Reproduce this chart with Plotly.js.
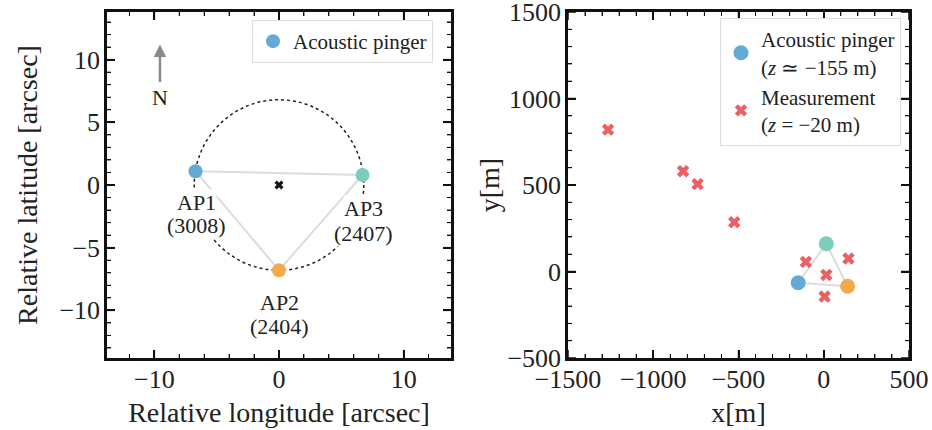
<!DOCTYPE html>
<html>
<head>
<meta charset="utf-8">
<script src="https://cdn.plot.ly/plotly-3.0.1.min.js"></script>
<style>html,body{margin:0;padding:0;background:#fff;overflow:hidden;}</style>
</head>
<body>
<div id="chart" style="width:932px;height:430px;"></div>
<script>
// ---- Left panel data (relative coordinates, arcsec) ----
const apNames = ['AP1', 'AP2', 'AP3'];
const apIds = ['(3008)', '(2404)', '(2407)'];
const apLon = [-6.7, 0.0, 6.7];
const apLat = [1.1, -6.8, 0.8];
const centerLon = [0.0];
const centerLat = [0.0];
const circleRadius = 6.8;

// ---- Right panel data (metres) ----
const pingerX = [-150, 140, 15];
const pingerY = [-65, -85, 160];
const measX = [-1265, -825, -740, -525, -105, 145, 15, 5];
const measY = [820, 580, 505, 285, 55, 75, -20, -145];

// ---- Tick spacing (major / minor) ----
const leftXTickStep = [10, 2];
const leftYTickStep = [5, 1];
const rightTickStep = [500, 100];

// ---- Styles ----
const apColors = ['#64aad7', '#f5a94d', '#7ccdb9'];
const measColor = '#ee5f63';
const triColor = '#dcdcdc';

const traces = [];
traces.push({x: apLon.concat([apLon[0]]), y: apLat.concat([apLat[0]]), xaxis: 'x', yaxis: 'y',
  mode: 'lines', line: {color: triColor, width: 2}, showlegend: false, hoverinfo: 'skip'});
traces.push({x: pingerX.concat([pingerX[0]]), y: pingerY.concat([pingerY[0]]), xaxis: 'x2', yaxis: 'y2',
  mode: 'lines', line: {color: triColor, width: 2}, showlegend: false, hoverinfo: 'skip'});
traces.push({x: centerLon, y: centerLat, xaxis: 'x', yaxis: 'y', mode: 'markers',
  marker: {symbol: 'x', size: 8, color: '#111'}, showlegend: false});
for (let i = 0; i < apLon.length; i++) {
  traces.push({x: [apLon[i]], y: [apLat[i]], xaxis: 'x', yaxis: 'y', mode: 'markers',
    name: 'Acoustic pinger', legend: 'legend', showlegend: i === 0,
    marker: {size: 14, color: apColors[i]}});
}
for (let i = 0; i < pingerX.length; i++) {
  traces.push({x: [pingerX[i]], y: [pingerY[i]], xaxis: 'x2', yaxis: 'y2', mode: 'markers',
    name: 'Acoustic pinger<br>(<i>z</i> \u2243 \u2212155 m)', legend: 'legend2', showlegend: i === 0,
    marker: {size: 15, color: apColors[i]}});
}
traces.push({x: measX, y: measY, xaxis: 'x2', yaxis: 'y2', mode: 'markers',
  name: 'Measurement<br>(<i>z</i> = \u221220 m)', legend: 'legend2',
  marker: {symbol: 'x', size: 11, color: measColor}});

function axis(extra, step) {
  return Object.assign({
    showline: true, linecolor: '#111', linewidth: 2.5, mirror: 'allticks',
    ticks: 'inside', ticklen: 8, tickwidth: 1.5, tickcolor: '#111',
    showgrid: false, zeroline: false, automargin: false, ticklabeloverflow: 'allow',
    tickmode: 'linear', tick0: 0, dtick: step[0],
    tickfont: {size: 26, color: '#222'},
    minor: {ticks: 'inside', ticklen: 4, tickwidth: 1, tickcolor: '#111', showgrid: false,
      tickmode: 'linear', tick0: 0, dtick: step[1]}
  }, extra);
}
const yDom = [1 - 358 / 430, 1 - 12 / 430];
const titleFont = {size: 28, color: '#222'};

// Frame tick marks on all four sides, placed through the axes' own scales
// (x/y data refs for the position along the axis, domain refs for the inward length).
function frameTicks(axLetter, xr, yr, range, step, plotPx) {
  const out = [];
  const kMin = Math.ceil((range[0] - 1e-9) / step[1]);
  const kMax = Math.floor((range[1] + 1e-9) / step[1]);
  const ratio = Math.round(step[0] / step[1]);
  for (let k = kMin; k <= kMax; k++) {
    const v = k * step[1];
    const major = (k % ratio === 0);
    const f = (major ? 8 : 4) / plotPx;
    const w = major ? 1.5 : 1;
    if (axLetter === 'x') {
      out.push({type: 'line', xref: xr, yref: yr + ' domain', x0: v, x1: v, y0: 0, y1: f,
        line: {color: '#111', width: w}, layer: 'above'});
      out.push({type: 'line', xref: xr, yref: yr + ' domain', x0: v, x1: v, y0: 1, y1: 1 - f,
        line: {color: '#111', width: w}, layer: 'above'});
    } else {
      out.push({type: 'line', xref: xr + ' domain', yref: yr, y0: v, y1: v, x0: 0, x1: f,
        line: {color: '#111', width: w}, layer: 'above'});
      out.push({type: 'line', xref: xr + ' domain', yref: yr, y0: v, y1: v, x0: 1, x1: 1 - f,
        line: {color: '#111', width: w}, layer: 'above'});
    }
  }
  return out;
}

const leftXRange = [-13.8, 13.8];
const leftYRange = [-13.8, 13.8];
const rightXRange = [-1500.01, 500.01];
const rightYRange = [-500.01, 1500.01];

const shapes = [{type: 'circle', xref: 'x', yref: 'y',
  x0: centerLon[0] - circleRadius, x1: centerLon[0] + circleRadius,
  y0: centerLat[0] - circleRadius, y1: centerLat[0] + circleRadius,
  line: {color: '#222', width: 1.5, dash: 'dot'}, layer: 'below'}]
  .concat(frameTicks('x', 'x', 'y', leftXRange, leftXTickStep, 346))
  .concat(frameTicks('y', 'x', 'y', leftYRange, leftYTickStep, 344))
  .concat(frameTicks('x', 'x2', 'y2', rightXRange, rightTickStep, 346))
  .concat(frameTicks('y', 'x2', 'y2', rightYRange, rightTickStep, 341));

const labelPos = [
  {x: -6.58, y1: -1.4, y2: -3.25},
  {x: 0.0, y1: -9.4, y2: -11.3},
  {x: 6.74, y1: -1.9, y2: -3.9}
];
const annotations = [];
for (let i = 0; i < apNames.length; i++) {
  annotations.push({x: labelPos[i].x, y: labelPos[i].y1, xref: 'x', yref: 'y', text: apNames[i],
    showarrow: false, bgcolor: 'white', font: {size: 22, color: '#222'}, borderpad: 0});
  annotations.push({x: labelPos[i].x, y: labelPos[i].y2, xref: 'x', yref: 'y', text: apIds[i],
    showarrow: false, bgcolor: 'white', font: {size: 22, color: '#222'}, borderpad: 0});
}
annotations.push({x: -9.55, y: 11.2, xref: 'x', yref: 'y', ax: -9.55, ay: 8.1, axref: 'x', ayref: 'y',
  text: '', showarrow: true, arrowhead: 2, arrowsize: 1, arrowwidth: 2.5, arrowcolor: '#8a8a8a'});
annotations.push({x: -9.55, y: 7.0, xref: 'x', yref: 'y', text: 'N', showarrow: false,
  font: {size: 22, color: '#222'}});

const layout = {
  width: 932, height: 430, autosize: false, margin: {l: 0, r: 0, t: 0, b: 0},
  font: {family: 'Liberation Serif, serif', size: 24, color: '#222'},
  xaxis: axis({domain: [107 / 932, 451 / 932], range: leftXRange, anchor: 'y', ticklabelstandoff: -4,
    title: {text: 'Relative longitude [arcsec]', font: titleFont, standoff: 10}}, leftXTickStep),
  yaxis: axis({domain: yDom, range: leftYRange, anchor: 'x', ticklabelstandoff: -1,
    title: {text: 'Relative latitude [arcsec]', font: titleFont, standoff: 14}}, leftYTickStep),
  xaxis2: axis({domain: [568 / 932, 909 / 932], range: rightXRange, anchor: 'y2', ticklabelstandoff: -4,
    title: {text: 'x[m]', font: titleFont, standoff: 10}}, rightTickStep),
  yaxis2: axis({domain: yDom, range: rightYRange, anchor: 'x2', ticklabelstandoff: -1,
    title: {text: 'y[m]', font: titleFont, standoff: 0}}, rightTickStep),
  shapes: shapes,
  annotations: annotations,
  legend: {x: 433 / 932, xanchor: 'right', y: 1 - 20 / 430, yanchor: 'top',
    bgcolor: 'white', bordercolor: '#dddddd', borderwidth: 1, font: {size: 21, color: '#222'}},
  legend2: {x: 901 / 932, xanchor: 'right', y: 1 - 18 / 430, yanchor: 'top',
    bgcolor: 'white', bordercolor: '#dddddd', borderwidth: 1, font: {size: 21, color: '#222'}}
};

Plotly.newPlot('chart', traces, layout, {displayModeBar: false});
</script>
</body>
</html>
